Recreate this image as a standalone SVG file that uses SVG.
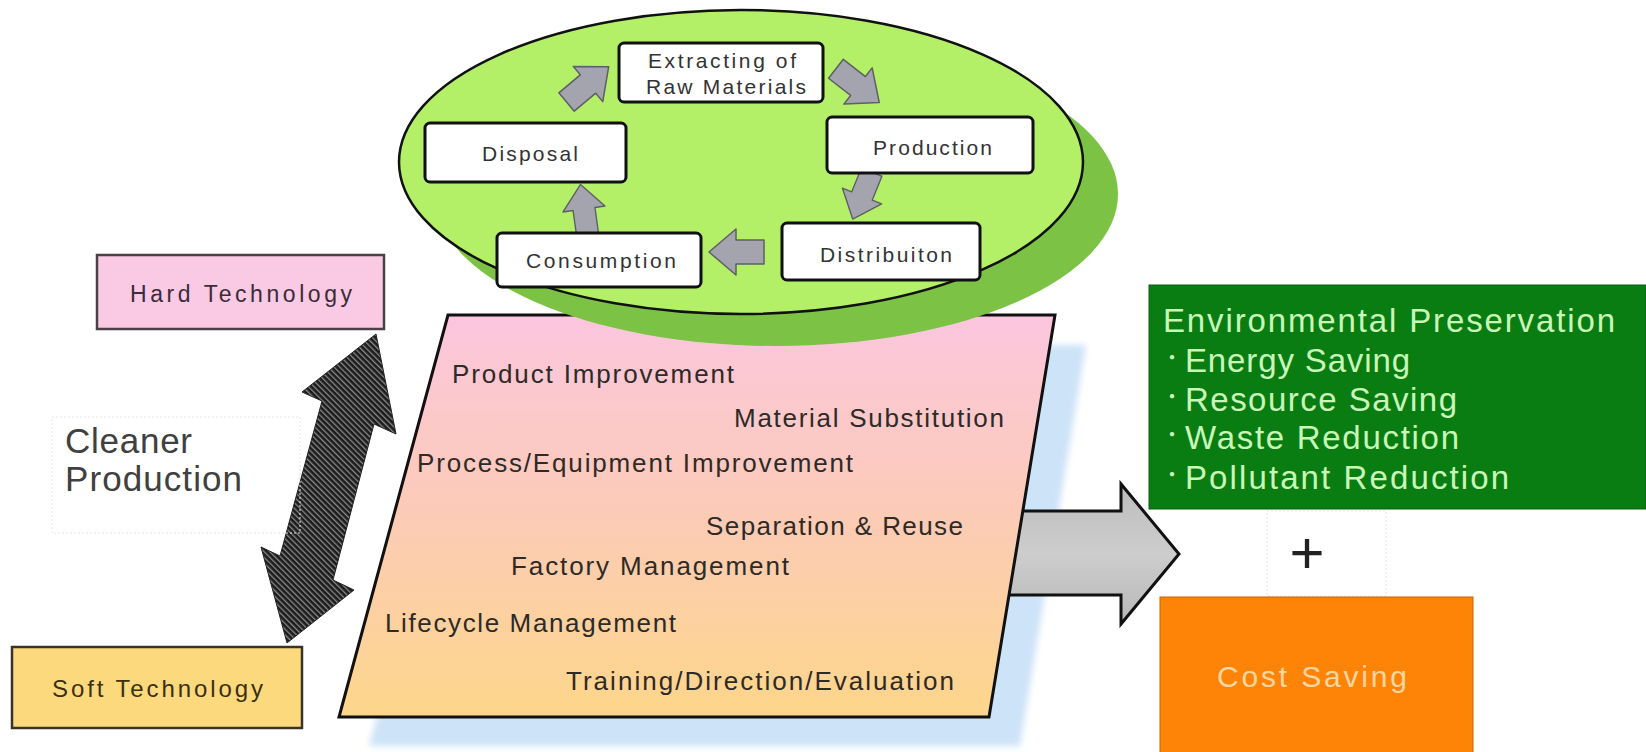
<svg xmlns="http://www.w3.org/2000/svg" xmlns:xlink="http://www.w3.org/1999/xlink" width="1646" height="752" viewBox="0 0 1646 752">
<style>
.t{font-family:"Liberation Sans",Arial,sans-serif;}
.box{fill:#ffffff;stroke:#111;stroke-width:3;}
.boxt{font-family:"Liberation Sans",Arial,sans-serif;font-size:21px;fill:#333;text-anchor:start;}
.pt{font-family:"Liberation Sans",Arial,sans-serif;font-size:26px;fill:#2e2a26;}
.gt{font-family:"Liberation Sans",Arial,sans-serif;font-size:33px;fill:#c8f7b8;}
.bul{font-family:"Noto Sans CJK JP",sans-serif;font-size:20px;fill:#c8f7b8;}
.cyc{fill:#a4a4ae;stroke:#5e5e66;stroke-width:1.5;stroke-linejoin:round;}
.faint{fill:none;stroke:#e4e4e4;stroke-width:1;stroke-dasharray:2 2;}
</style>
<defs>
<linearGradient id="pg" x1="0" y1="0" x2="0" y2="1">
<stop offset="0" stop-color="#fbc6de"/>
<stop offset="0.5" stop-color="#fccbb6"/>
<stop offset="1" stop-color="#fdd68a"/>
</linearGradient>
<linearGradient id="ga" x1="0" y1="0" x2="0" y2="1">
<stop offset="0" stop-color="#bcbcbc"/>
<stop offset="0.5" stop-color="#cdcdcd"/>
<stop offset="1" stop-color="#b8b8b8"/>
</linearGradient>
<pattern id="hatch" width="4" height="4" patternUnits="userSpaceOnUse" patternTransform="rotate(-45)">
<rect width="4" height="4" fill="#1c1c1c"/>
<rect width="1.3" height="4" fill="#8a8a8a"/>
</pattern>
<filter id="soft" x="-5%" y="-5%" width="110%" height="110%">
<feGaussianBlur stdDeviation="3"/>
</filter>
<path id="blk" d="M-28,-12 H0 V-23 L27,0 L0,23 V12 H-28 Z"/>
</defs>

<rect width="1646" height="752" fill="#ffffff"/>

<!-- base parallelogram with shadow and output arrow -->
<g id="practices">
<polygon points="478,345 1086,345 1020,746 369,746" fill="#cde3f8" filter="url(#soft)"/>
</g>
<g id="connectors">
<polygon points="960,511 1121,511 1121,484 1179,554 1121,624 1121,595 960,595" fill="url(#ga)" stroke="#111" stroke-width="3" stroke-linejoin="miter"/>
</g>
<g id="practices-body">
<polygon points="448,315 1055,315 989,717 339,717" fill="url(#pg)" stroke="#111" stroke-width="3" stroke-linejoin="miter"/>
<text class="pt" x="452" y="383" textLength="282">Product Improvement</text>
<text class="pt" x="734" y="427" textLength="270">Material Substitution</text>
<text class="pt" x="417" y="472" textLength="436">Process/Equipment Improvement</text>
<text class="pt" x="706" y="535" textLength="257">Separation &amp; Reuse</text>
<text class="pt" x="511" y="575" textLength="278">Factory Management</text>
<text class="pt" x="385" y="632" textLength="291">Lifecycle Management</text>
<text class="pt" x="566" y="690" textLength="388">Training/Direction/Evaluation</text>
</g>

<!-- lifecycle ellipse -->
<g id="lifecycle">
<ellipse cx="776" cy="194" rx="342" ry="152" fill="#7cc244"/>
<ellipse cx="741" cy="162" rx="342" ry="152" fill="#b3f068" stroke="#111" stroke-width="2.5"/>
</g>

<g id="cycle-arrows">
<use href="#blk" class="cyc" transform="translate(588,84) rotate(-40)"/>
<use href="#blk" class="cyc" transform="translate(858,86) rotate(38)"/>
<use href="#blk" class="cyc" transform="translate(862,196) rotate(112) scale(0.92)"/>
<use href="#blk" class="cyc" transform="translate(736,252) rotate(180)"/>
<use href="#blk" class="cyc" transform="translate(584,209) rotate(-98) scale(0.92)"/>
</g>
<g id="double-arrow">
<polygon points="376,334 396,434 374,424 333,580 354,590 287,643 261,547 280,556 322,401 302,392" fill="url(#hatch)" stroke="#222" stroke-width="1"/>
</g>

<g id="extracting">
<rect class="box" x="619" y="43" width="204" height="59" rx="5"/>
<text class="boxt" x="648" y="68" font-size="19" textLength="148">Extracting of</text>
<text class="boxt" x="646" y="94" font-size="19" textLength="160">Raw Materials</text>
</g>
<g id="production">
<rect class="box" x="827" y="117" width="206" height="56" rx="5"/>
<text class="boxt" x="873" y="155" textLength="119">Production</text>
</g>
<g id="disposal">
<rect class="box" x="425" y="123" width="201" height="59" rx="5"/>
<text class="boxt" x="482" y="161" textLength="96">Disposal</text>
</g>
<g id="distribution">
<rect class="box" x="782" y="223" width="198" height="57" rx="5"/>
<text class="boxt" x="820" y="262" textLength="132">Distribuiton</text>
</g>
<g id="consumption">
<rect class="box" x="497" y="233" width="204" height="54" rx="5"/>
<text class="boxt" x="526" y="268" textLength="150">Consumption</text>
</g>

<g id="hard-tech">
<rect x="97" y="255" width="287" height="74" fill="#fac9e3" stroke="#4a4048" stroke-width="2.5"/>
<text class="t" x="130" y="302" font-size="23" fill="#3a2c38" textLength="222">Hard Technology</text>
</g>
<g id="soft-tech">
<rect x="12" y="647" width="290" height="81" fill="#fcd97c" stroke="#3a3428" stroke-width="2.5"/>
<text class="t" x="52" y="697" font-size="24" fill="#3a3010" textLength="211">Soft Technology</text>
</g>
<g id="cleaner-production">
<rect class="faint" x="52" y="417" width="248" height="116"/>
<text class="t" x="65" y="453" font-size="35" fill="#404040" textLength="127">Cleaner</text>
<text class="t" x="65" y="491" font-size="35" fill="#404040" textLength="177">Production</text>
</g>

<g id="environmental">
<rect x="1149" y="285" width="497" height="224" fill="#0a7d12" stroke="#0a5e10" stroke-width="1"/>
<text class="gt" x="1163" y="332" textLength="452">Environmental Preservation</text>
<text class="gt" y="372"><tspan class="bul" x="1162" dy="-7">・</tspan><tspan x="1185" dy="7" textLength="225">Energy Saving</tspan></text>
<text class="gt" y="411"><tspan class="bul" x="1162" dy="-7">・</tspan><tspan x="1185" dy="7" textLength="272">Resource Saving</tspan></text>
<text class="gt" y="449"><tspan class="bul" x="1162" dy="-7">・</tspan><tspan x="1185" dy="7" textLength="274">Waste Reduction</tspan></text>
<text class="gt" y="489"><tspan class="bul" x="1162" dy="-7">・</tspan><tspan x="1185" dy="7" textLength="324">Pollutant Reduction</tspan></text>
</g>
<g id="plus">
<rect class="faint" x="1267" y="511" width="119" height="85"/>
<text class="t" x="1307" y="573" font-size="60" fill="#222" text-anchor="middle">+</text>
</g>
<g id="cost-saving">
<rect x="1160" y="597" width="313" height="160" fill="#fd8406" stroke="#c86400" stroke-width="1"/>
<text class="t" x="1217" y="687" font-size="30" fill="#fdd6a0" textLength="190">Cost Saving</text>
</g>
</svg>
